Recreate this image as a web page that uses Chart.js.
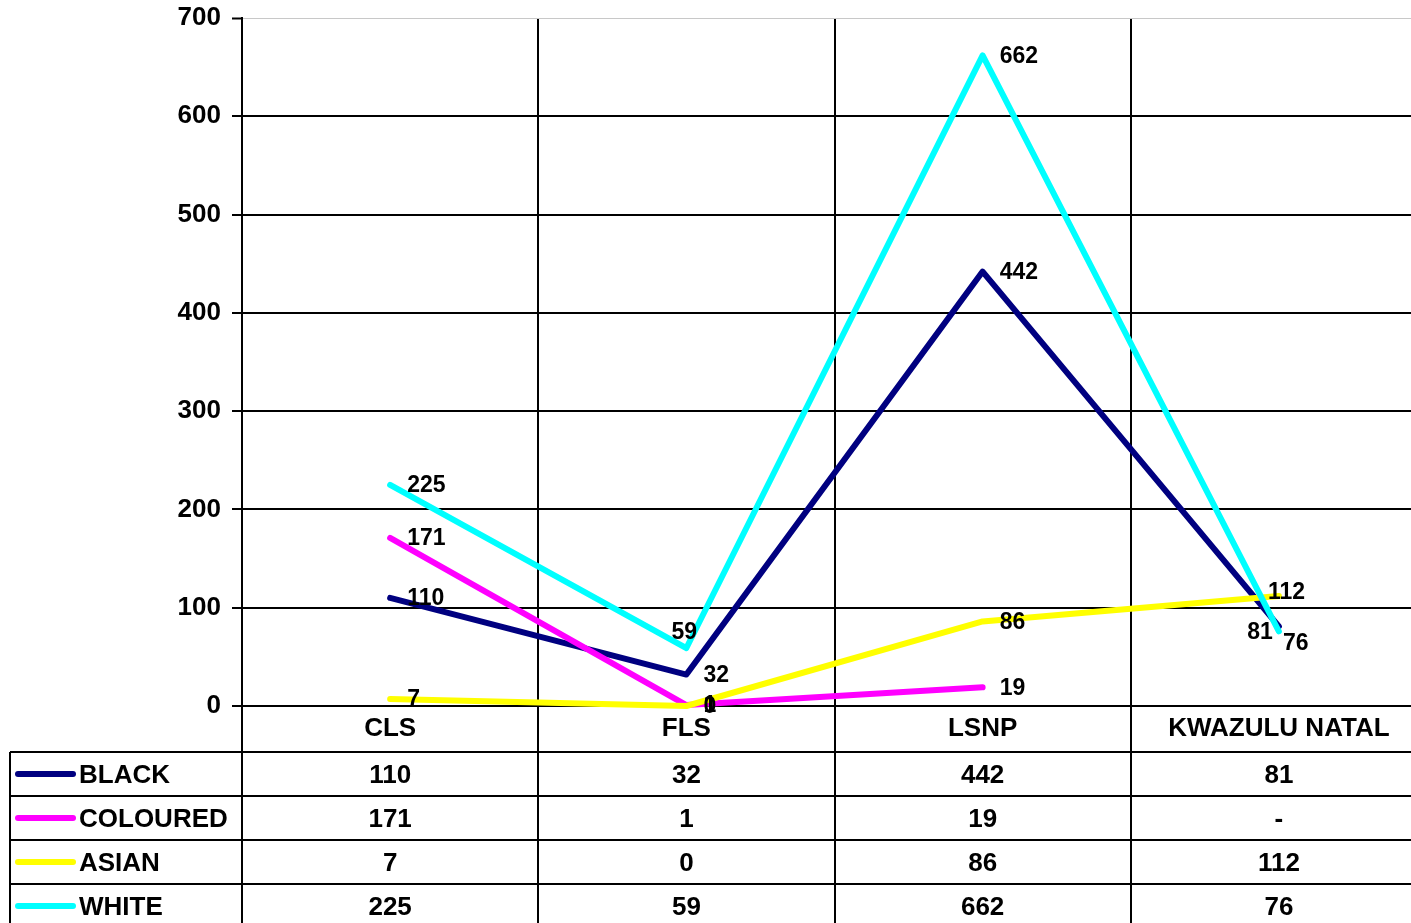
<!DOCTYPE html>
<html>
<head>
<meta charset="utf-8">
<script src="https://cdn.jsdelivr.net/npm/chart.js@4/dist/chart.umd.min.js"></script>
<style>
html,body{margin:0;padding:0;background:#fff;overflow:hidden;}
#wrap{width:1430px;height:923px;}
</style>
</head>
<body>
<div id="wrap"><canvas id="c" width="1430" height="923"></canvas></div>
<script>
const categories = ['CLS', 'FLS', 'LSNP', 'KWAZULU NATAL'];
const seriesNames = ['BLACK', 'COLOURED', 'ASIAN', 'WHITE'];
const blackValues = [110, 32, 442, 81];
const colouredValues = [171, 1, 19, null];
const asianValues = [7, 0, 86, 112];
const whiteValues = [225, 59, 662, 76];
const yMin = 0, yMax = 700, yStep = 100;

const seriesValues = [blackValues, colouredValues, asianValues, whiteValues];
const seriesColors = ['#000080', '#FF00FF', '#FFFF00', '#00FFFF'];
const FONT = '"Liberation Sans", Arial, sans-serif';

// label placement tweaks (style only)
const defaultLabelOffset = { dx: 17, dy: 1, align: 'left' };
const labelOffsetOverrides = {
  '0-3': { dx: -6, dy: 6, align: 'right' },
  '2-3': { dx: -11, dy: -3, align: 'left' },
  '3-1': { dx: -15, dy: -15, align: 'left' },
  '3-3': { dx: 4, dy: 12, align: 'left' }
};

const datasets = seriesNames.map((name, i) => ({
  label: name,
  data: seriesValues[i],
  borderColor: seriesColors[i],
  backgroundColor: seriesColors[i],
  borderWidth: 6,
  borderCapStyle: 'round',
  borderJoinStyle: 'round',
  pointRadius: 0,
  pointHoverRadius: 0,
  tension: 0,
  spanGaps: false,
  fill: false,
  clip: false,
  order: seriesNames.length - i
}));

const fmt = v => (v === null || v === undefined) ? '-' : String(v);

const tablePlugin = {
  id: 'tablePlugin',
  afterDatasetsDraw(chart) {
    const ctx = chart.ctx;
    ctx.save();
    ctx.fillStyle = '#000';
    ctx.font = 'bold 23px ' + FONT;
    ctx.textBaseline = 'middle';
    chart.data.datasets.forEach((ds, si) => {
      const meta = chart.getDatasetMeta(si);
      meta.data.forEach((pt, pi) => {
        const v = ds.data[pi];
        if (v === null || v === undefined) return;
        const o = labelOffsetOverrides[si + '-' + pi] || defaultLabelOffset;
        ctx.textAlign = o.align;
        ctx.fillText(String(v), pt.x + o.dx, pt.y + o.dy);
      });
    });
    ctx.restore();
  },
  afterDraw(chart) {
    const ctx = chart.ctx;
    const x = chart.scales.x;
    const area = chart.chartArea;
    const H = chart.height;
    const tableLeft = 10;
    const headerTop = area.bottom;
    const firstRowTop = headerTop + 46;
    const rowH = 44;
    const n = categories.length;
    const half = (x.getPixelForValue(1) - x.getPixelForValue(0)) / 2;
    ctx.save();
    ctx.strokeStyle = '#000';
    ctx.lineWidth = 2;
    ctx.beginPath();
    for (let i = 0; i <= n; i++) {
      const px = Math.round(x.getPixelForValue(0) - half + i * half * 2);
      ctx.moveTo(px, headerTop);
      ctx.lineTo(px, H);
    }
    ctx.moveTo(tableLeft, firstRowTop);
    ctx.lineTo(tableLeft, H);
    for (let r = 0; r < seriesNames.length; r++) {
      const py = firstRowTop + r * rowH;
      ctx.moveTo(tableLeft, py);
      ctx.lineTo(area.right, py);
    }
    ctx.stroke();

    ctx.fillStyle = '#000';
    ctx.font = 'bold 26px ' + FONT;
    ctx.textBaseline = 'middle';
    ctx.textAlign = 'center';
    categories.forEach((c, i) => {
      ctx.fillText(c, x.getPixelForValue(i), headerTop + 23);
    });
    seriesNames.forEach((name, r) => {
      const cy = firstRowTop + r * rowH + 24;
      ctx.strokeStyle = seriesColors[r];
      ctx.lineWidth = 6;
      ctx.lineCap = 'round';
      ctx.beginPath();
      ctx.moveTo(18, cy - 2);
      ctx.lineTo(73, cy - 2);
      ctx.stroke();
      ctx.textAlign = 'left';
      ctx.fillText(name, 79, cy);
      ctx.textAlign = 'center';
      seriesValues[r].forEach((v, i) => {
        ctx.fillText(fmt(v), x.getPixelForValue(i), cy);
      });
    });
    ctx.restore();
  }
};

new Chart(document.getElementById('c'), {
  type: 'line',
  data: { labels: categories, datasets },
  options: {
    responsive: false,
    animation: false,
    devicePixelRatio: 1,
    layout: { padding: { top: 18, right: 3, left: 0, bottom: 0 } },
    plugins: { legend: { display: false }, tooltip: { enabled: false }, title: { display: false } },
    scales: {
      x: {
        type: 'category',
        offset: true,
        afterFit: s => { s.height = 217; s.paddingLeft = 0; s.paddingRight = 0; },
        ticks: { display: false },
        grid: { display: true, offset: true, color: '#000', lineWidth: 2, drawTicks: false },
        border: { display: true, color: '#000', width: 2 }
      },
      y: {
        min: yMin,
        max: yMax,
        afterFit: s => { s.width = 242; s.paddingTop = 0; s.paddingBottom = 0; },
        ticks: {
          stepSize: yStep,
          padding: 11,
          color: '#000',
          font: { family: FONT, size: 26, weight: 'bold' }
        },
        grid: {
          color: c => (c.tick && c.tick.value === yMax) ? '#c8c8c8' : '#000',
          lineWidth: c => (c.tick && c.tick.value === yMax) ? 1 : 2,
          tickColor: '#000',
          tickWidth: 2,
          tickLength: 10,
          drawTicks: true
        },
        border: { display: true, color: '#000', width: 2 }
      }
    }
  },
  plugins: [tablePlugin]
});
</script>
</body>
</html>
